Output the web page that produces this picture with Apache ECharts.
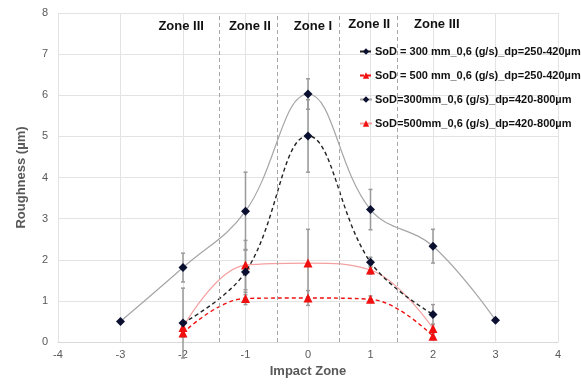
<!DOCTYPE html>
<html>
<head>
<meta charset="utf-8">
<script src="https://cdn.jsdelivr.net/npm/echarts@6/dist/echarts.min.js"></script>
<style>html,body{margin:0;padding:0;background:#fff}#c{width:581px;height:385px}</style>
</head>
<body>
<div id="c"></div>
<script>
// ---- data ----
const xInner = [-2, -1, 0, 1, 2];
const xOuter = [-3, -2, -1, 0, 1, 2, 3];
const s1Name = 'SoD = 300 mm_0,6 (g/s)_dp=250-420µm';
const s2Name = 'SoD = 500 mm_0,6 (g/s)_dp=250-420µm';
const s3Name = 'SoD=300mm_0,6 (g/s)_dp=420-800µm';
const s4Name = 'SoD=500mm_0,6 (g/s)_dp=420-800µm';
const s1Vals = [0.46, 1.70, 5.01, 1.94, 0.67];
const s1Err  = [0.85, 0.55, 0.88, 0.12, 0.24];
const s2Vals = [0.22, 1.06, 1.07, 1.04, 0.14];
const s2Err  = [0.10, 0.15, 0.18, 0.08, 0.08];
const s3Vals = [0.50, 1.81, 3.18, 6.03, 3.22, 2.33, 0.53];
const s3Err  = [0, 0.35, 0.95, 0.37, 0.49, 0.41, 0];
const s4Vals = [0.35, 1.87, 1.92, 1.75, 0.33];
const s4Err  = [0.12, 0.60, 0.82, 0.10, 0.10];
const zoneLines = [-1.42, -0.5, 0.5, 1.42];
const zoneLabels = ['Zone III', 'Zone II', 'Zone I', 'Zone II', 'Zone III'];
const zoneLabelX = [-2.03, -0.93, 0.08, 0.98, 2.06];
const zoneLabelY = [7.68, 7.68, 7.68, 7.72, 7.72];
const xTicks = { min: -4, max: 4, interval: 1 };
const yTicks = { min: 0, max: 8, interval: 1 };

const pairs = (xs, ys) => xs.map((x, i) => [x, ys[i]]);
const errData = [];
[[xInner, s1Vals, s1Err], [xInner, s2Vals, s2Err], [xOuter, s3Vals, s3Err], [xInner, s4Vals, s4Err]].forEach(([xs, ys, es]) => {
  xs.forEach((x, i) => { if (es[i] > 0) errData.push([x, ys[i], es[i]]); });
});

const FONT = 'Liberation Sans, Arial, sans-serif';
const chart = echarts.init(document.getElementById('c'), null, { renderer: 'canvas' });
chart.setOption({
  animation: false,
  textStyle: { fontFamily: FONT },
  grid: { left: 58, right: 23, top: 13, bottom: 43 },
  xAxis: {
    type: 'value', min: xTicks.min, max: xTicks.max, interval: xTicks.interval,
    name: 'Impact Zone', nameLocation: 'middle', nameGap: 22,
    nameTextStyle: { fontFamily: FONT, fontSize: 13, fontWeight: 'bold', color: '#595959' },
    axisLine: { show: true, onZero: false, lineStyle: { color: '#d9d9d9' } },
    axisTick: { show: false },
    axisLabel: { color: '#595959', fontSize: 11, fontFamily: FONT, margin: 7 },
    splitLine: { show: true, lineStyle: { color: '#e3e3e3', width: 1 } }
  },
  yAxis: {
    type: 'value', min: yTicks.min, max: yTicks.max, interval: yTicks.interval,
    name: 'Roughness (µm)', nameLocation: 'middle', nameGap: 30, nameRotate: 90,
    nameTextStyle: { fontFamily: FONT, fontSize: 13, fontWeight: 'bold', color: '#595959' },
    axisLine: { show: true, lineStyle: { color: '#d9d9d9' } },
    axisTick: { show: false },
    axisLabel: { color: '#595959', fontSize: 11, fontFamily: FONT, margin: 10 },
    splitLine: { show: true, lineStyle: { color: '#e3e3e3', width: 1 } }
  },
  legend: {
    data: [s1Name, s2Name, s3Name, s4Name],
    orient: 'vertical', left: 354, top: 41, itemGap: 13,
    itemWidth: 12, itemHeight: 8,
    textStyle: { fontFamily: FONT, fontSize: 11, fontWeight: 'bold', color: '#111', padding: [0, 0, 0, -2] }
  },
  series: [
    {
      type: 'custom', name: 'err', z: 1, silent: true,
      data: errData,
      renderItem: function (params, api) {
        const x = api.value(0), y = api.value(1), e = api.value(2);
        const top = api.coord([x, y + e]);
        const bot = api.coord([x, y - e]);
        const cw = 2;
        const st = { stroke: '#9a9a9a', lineWidth: 1.5 };
        return {
          type: 'group', children: [
            { type: 'line', shape: { x1: top[0], y1: top[1], x2: bot[0], y2: bot[1] }, style: st },
            { type: 'line', shape: { x1: top[0] - cw, y1: top[1], x2: top[0] + cw, y2: top[1] }, style: st },
            { type: 'line', shape: { x1: bot[0] - cw, y1: bot[1], x2: bot[0] + cw, y2: bot[1] }, style: st }
          ]
        };
      }
    },
    {
      type: 'line', name: s3Name, data: pairs(xOuter, s3Vals), smooth: 0.4, z: 3,
      symbol: 'diamond', symbolSize: 9,
      itemStyle: { color: '#0b1030' },
      lineStyle: { color: '#a6a6a6', width: 1.2, type: 'solid' },
      markLine: {
        silent: true, symbol: 'none', label: { show: false },
        lineStyle: { color: '#a6a6a6', type: [4, 3], width: 1 },
        data: zoneLines.map(v => ({ xAxis: v }))
      },
      markPoint: {
        symbol: 'circle', symbolSize: 1, itemStyle: { color: 'rgba(0,0,0,0)' },
        label: { show: true, position: 'inside', fontFamily: FONT, fontSize: 13, fontWeight: 'bold', color: '#111', formatter: p => p.name },
        data: zoneLabels.map((t, i) => ({ name: t, coord: [zoneLabelX[i], zoneLabelY[i]] }))
      }
    },
    {
      type: 'line', name: s4Name, data: pairs(xInner, s4Vals), smooth: 0.4, z: 3,
      symbol: 'triangle', symbolSize: 9,
      itemStyle: { color: '#f01010' },
      lineStyle: { color: '#f4a0a0', width: 1.2, type: 'solid' }
    },
    {
      type: 'line', name: s1Name, data: pairs(xInner, s1Vals), smooth: 0.4, z: 4,
      symbol: 'diamond', symbolSize: 9,
      itemStyle: { color: '#0b1030' },
      lineStyle: { color: '#222', width: 1.4, type: [4, 3] }
    },
    {
      type: 'line', name: s2Name, data: pairs(xInner, s2Vals), smooth: 0.4, z: 4,
      symbol: 'triangle', symbolSize: 9,
      itemStyle: { color: '#f01010' },
      lineStyle: { color: '#f01010', width: 1.4, type: [4, 3] }
    }
  ]
});
</script>
</body>
</html>
